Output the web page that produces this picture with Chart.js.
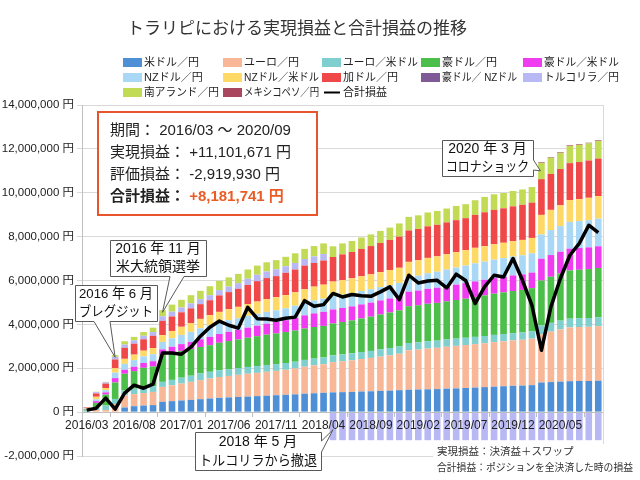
<!DOCTYPE html>
<html lang="ja">
<head>
<meta charset="utf-8">
<script src="https://cdn.jsdelivr.net/npm/chart.js@4"></script>
<style>
  html, body { margin: 0; padding: 0; background: #fff; }
</style>
</head>
<body>
<canvas id="chart" width="640" height="480"></canvas>
<script>
// 値はすべて 万円 単位（グラフ作成時に 10,000 倍する）
const months = [
  '2016/03','2016/04','2016/05','2016/06','2016/07','2016/08','2016/09','2016/10','2016/11','2016/12',
  '2017/01','2017/02','2017/03','2017/04','2017/05','2017/06','2017/07','2017/08','2017/09','2017/10','2017/11','2017/12',
  '2018/01','2018/02','2018/03','2018/04','2018/05','2018/06','2018/07','2018/08','2018/09','2018/10','2018/11','2018/12',
  '2019/01','2019/02','2019/03','2019/04','2019/05','2019/06','2019/07','2019/08','2019/09','2019/10','2019/11','2019/12',
  '2020/01','2020/02','2020/03','2020/04','2020/05','2020/06','2020/07','2020/08','2020/09'
];
const tickLabels = ['2016/03','2016/08','2017/01','2017/06','2017/11','2018/04','2018/09','2019/02','2019/07','2019/12','2020/05'];

const usdjpy = [0,0,0,0,21,27,30,32,47,50,
  53,56,59,62,65,67,69,71,73,75,77,79,
  81,84,86,88,90,91,92,94,95,97,98,100,
  102,103,104,105,107,108,110,112,114,116,118,120,
  121,123,135,137,139,141,142,142,143];
const eurjpy = [2,10,10,37,55,55,57,60,68,72,
  77,82,87,91,95,98,101,104,106,109,111,114,
  118,123,127,130,138,141,144,148,152,156,161,166,
  180,182,186,188,191,194,196,198,200,203,205,207,
  209,212,220,230,238,245,246,247,249];
const eurusd = [5,12,20,23,23,25,25,26,23,25,
  27,28,30,31,31,31,31,31,31,31,31,31,
  31,31,31,31,31,31,32,32,32,33,33,33,
  33,33,33,33,33,33,33,33,33,33,33,33,
  33,33,40,40,40,40,40,40,40];
const audjpy = [5,20,50,75,76,80,90,90,122,122,
  122,121,121,121,125,128,130,133,136,138,140,141,
  142,143,144,144,145,148,150,153,156,159,162,165,
  168,169,171,172,174,176,178,182,185,188,190,192,
  194,197,205,210,215,220,221,223,225];
const audusd = [2,8,10,20,18,20,22,24,26,29,
  31,33,35,38,40,42,44,46,48,50,52,54,
  57,60,62,64,64,64,64,64,64,64,64,64,
  66,67,68,69,70,70,71,71,71,71,71,71,
  71,71,99,99,99,99,99,99,99];
const nzdjpy = [2,8,10,25,27,30,30,32,34,38,
  42,46,50,53,53,53,53,54,54,54,53,54,
  56,58,59,60,61,61,61,61,61,61,61,61,
  66,68,71,73,75,78,80,82,83,84,85,86,
  87,88,111,114,117,122,123,124,126];
const nzdusd = [2,12,10,20,23,25,26,28,31,34,
  37,40,43,46,48,50,52,54,56,58,60,60,
  61,62,63,64,66,66,67,67,68,68,69,69,
  70,70,70,70,70,70,70,71,70,70,70,70,
  70,70,89,92,95,100,100,102,103];
const cadjpy = [3,15,20,40,50,50,52,56,65,66,
  66,67,67,68,75,78,82,87,93,96,96,102,
  104,107,108,110,112,117,120,125,129,133,137,142,
  143,143,144,144,145,146,146,150,155,157,157,159,
  160,161,163,164,165,168,169,170,171];
const audnzd = [0,0,0,0,0,0,0,0,0,0,
  0,0,0,0,0,0,0,0,0,0,0,0,
  0,0,0,0,0,0,0,0,0,0,0,0,
  0,0,0,0,0,0,0,0,0,0,0,0,
  0,0,0,0,0,0,0,0,0];
const tryjpy = [1,6,6,12,15,15,16,17,21,22,
  22,23,23,23,24,25,26,28,29,30,31,30,
  30,30,30,30,-128,-128,-128,-128,-128,-128,-128,-128,
  -128,-128,-128,-128,-128,-128,-128,-128,-128,-128,-128,-128,
  -128,-128,-128,-128,-128,-128,-128,-128,-128];
const zarjpy = [1,2,2,8,15,16,17,20,28,32,
  35,37,38,41,42,42,42,42,42,42,42,43,
  44,46,47,48,49,50,50,52,53,55,56,60,
  62,62,63,63,63,65,64,67,70,71,70,70,
  70,71,74,74,74,78,78,78,80];
const mxnjpy = [0,0,0,0,0,0,0,0,0,0,
  0,0,0,0,0,0,0,0,0,0,0,0,
  0,0,0,0,0,0,0,0,0,0,0,0,
  0,0,0,0,0,0,0,0,0,0,0,0,
  0,0,3,3,3,3,3,3,3];
const totalPL = [9,18,64,14,87,123,109,128,269,269,
  264,296,346,387,415,396,383,478,426,424,419,428,
  433,508,483,490,541,525,536,531,528,548,571,513,
  624,589,598,601,566,629,600,495,571,624,616,700,
  601,487,282,480,609,715,769,852,818];

const FONT = "'Liberation Sans', 'Noto Sans CJK JP', sans-serif";
const MAN = 10000;

const series = [
  ['米ドル／円', usdjpy, '#4F8FD6'],
  ['ユーロ／円', eurjpy, '#F8B898'],
  ['ユーロ／米ドル', eurusd, '#7FCFCF'],
  ['豪ドル／円', audjpy, '#4CBE4A'],
  ['豪ドル／米ドル', audusd, '#F03CF0'],
  ['NZドル／円', nzdjpy, '#A8D8F5'],
  ['NZドル／米ドル', nzdusd, '#FFD966'],
  ['加ドル／円', cadjpy, '#F04848'],
  ['豪ドル／ NZドル', audnzd, '#7F5A96'],
  ['トルコリラ／円', tryjpy, '#B8B8F5'],
  ['南アランド／円', zarjpy, '#C2DB55'],
  ['メキシコペソ／円', mxnjpy, '#A8475E']
];

const datasets = series.map(s => ({
  type: 'bar',
  label: s[0],
  data: s[1].map(v => v * MAN),
  backgroundColor: s[2],
  stack: 'pl',
  order: 1,
  barPercentage: 0.7,
  categoryPercentage: 1.0
}));
datasets.push({
  type: 'line',
  label: '合計損益',
  data: totalPL.map(v => v * MAN),
  borderColor: '#000',
  borderWidth: 3.5,
  pointRadius: 0,
  fill: false,
  tension: 0,
  borderJoinStyle: 'round',
  stack: 'total',
  order: 0
});

// 吹き出し
function callout(ctx, b, tip, wedge, side, lines, size) {
  ctx.save();
  ctx.beginPath();
  ctx.moveTo(b.l + 0.5, b.t + 0.5);
  ctx.lineTo(b.r + 0.5, b.t + 0.5);
  if (side === 'right') {
    ctx.lineTo(b.r + 0.5, wedge[0]);
    ctx.lineTo(tip.x, tip.y);
    ctx.lineTo(b.r + 0.5, wedge[1]);
  }
  ctx.lineTo(b.r + 0.5, b.b + 0.5);
  if (side === 'bottom') {
    ctx.lineTo(wedge[1], b.b + 0.5);
    ctx.lineTo(tip.x, tip.y);
    ctx.lineTo(wedge[0], b.b + 0.5);
  }
  ctx.lineTo(b.l + 0.5, b.b + 0.5);
  ctx.closePath();
  ctx.fillStyle = '#fff';
  ctx.fill();
  ctx.strokeStyle = '#595959';
  ctx.lineWidth = 1;
  ctx.stroke();
  ctx.fillStyle = '#111';
  ctx.font = size + 'px ' + FONT;
  ctx.textAlign = 'center';
  ctx.textBaseline = 'middle';
  const cx = (b.l + b.r) / 2;
  const h = (b.b - b.t) / lines.length;
  lines.forEach((t, i) => ctx.fillText(t, cx, b.t + h * (i + 0.5) + 0.5, b.r - b.l - 8));
  ctx.restore();
}

const decor = {
  id: 'decor',
  afterDraw(chart) {
    const ctx = chart.ctx;
    const a = chart.chartArea;
    const x = chart.scales.x, y = chart.scales.y;
    ctx.save();

    // 右枠
    ctx.strokeStyle = '#d9d9d9';
    ctx.lineWidth = 1;
    ctx.beginPath();
    ctx.moveTo(Math.round(a.right) + 0.5, a.top);
    ctx.lineTo(Math.round(a.right) + 0.5, a.bottom);
    ctx.stroke();

    // タイトル
    ctx.fillStyle = '#333';
    ctx.font = '17px ' + FONT;
    ctx.textAlign = 'center';
    ctx.textBaseline = 'middle';
    ctx.fillText('トラリピにおける実現損益と合計損益の推移', 297, 29);

    // 凡例
    const cols = [123, 223, 322, 421, 523];
    const rows = [62, 77, 92];
    const items = series.map(s => [s[0], s[2]]).concat([['合計損益', null]]);
    ctx.font = '11px ' + FONT;
    ctx.textAlign = 'left';
    items.forEach((it, i) => {
      const cx = cols[i % 5], cy = rows[Math.floor(i / 5)];
      if (it[1]) {
        ctx.fillStyle = it[1];
        ctx.fillRect(cx, cy - 4, 19, 9);
      } else {
        ctx.fillStyle = '#000';
        ctx.fillRect(cx + 2, cy - 0.5, 16, 2);
      }
      ctx.fillStyle = '#222';
      ctx.fillText(it[0], cx + 21, cy + 1, 75);
    });

    // 損益ボックス
    const bx = {l: 98, t: 112, r: 317, b: 215};
    ctx.fillStyle = '#fff';
    ctx.fillRect(bx.l, bx.t, bx.r - bx.l, bx.b - bx.t);
    ctx.strokeStyle = '#E8542C';
    ctx.lineWidth = 2;
    ctx.strokeRect(bx.l, bx.t, bx.r - bx.l, bx.b - bx.t);
    ctx.font = '15px ' + FONT;
    ctx.textBaseline = 'middle';
    ctx.fillStyle = '#222';
    ctx.fillText('期間： 2016/03 ～ 2020/09', 110, 131);
    ctx.fillText('実現損益： +11,101,671 円', 110, 153);
    ctx.fillText('評価損益： -2,919,930 円', 110, 175);
    ctx.font = 'bold 15px ' + FONT;
    ctx.fillText('合計損益：', 110, 197);
    const w = ctx.measureText('合計損益： ').width;
    ctx.fillStyle = '#EA5B25';
    ctx.fillText('+8,181,741 円', 110 + w, 197);
    ctx.restore();

    // 吹き出し
    callout(ctx, {l: 75, t: 285, r: 157, b: 321},
      {x: x.getPixelForValue(3), y: y.getPixelForValue(2500000)},
      [94, 110], 'bottom', ['2016 年 6 月', 'ブレグジット'], 13.5);
    callout(ctx, {l: 110, t: 240, r: 206, b: 276},
      {x: x.getPixelForValue(8), y: y.getPixelForValue(4550000)},
      [170, 184], 'bottom', ['2016 年 11 月', '米大統領選挙'], 14);
    callout(ctx, {l: 442, t: 140, r: 533, b: 176},
      {x: x.getPixelForValue(48) - 1, y: y.getPixelForValue(11000000)},
      [160, 170], 'right', ['2020 年 3 月', 'コロナショック'], 14);
    callout(ctx, {l: 195, t: 432, r: 321, b: 470},
      {x: x.getPixelForValue(26), y: y.getPixelForValue(-800000)},
      [441, 452], 'right', ['2018 年 5 月', 'トルコリラから撤退'], 14);

    // 注記
    ctx.save();
    ctx.fillStyle = '#fff';
    ctx.fillRect(433, 444, 207, 32);
    ctx.fillStyle = '#333';
    ctx.font = '10.5px ' + FONT;
    ctx.textAlign = 'left';
    ctx.textBaseline = 'middle';
    ctx.fillText('実現損益：決済益＋スワップ', 437, 452, 200);
    ctx.fillText('合計損益：ポジションを全決済した時の損益', 437, 468, 196);
    ctx.restore();
  }
};

new Chart(document.getElementById('chart'), {
  data: { labels: months, datasets: datasets },
  options: {
    responsive: false,
    animation: false,
    devicePixelRatio: 1,
    layout: { padding: { top: 105, right: 37, bottom: 24, left: 0 } },
    plugins: {
      legend: { display: false },
      title: { display: false },
      tooltip: { enabled: false }
    },
    scales: {
      x: {
        stacked: true,
        position: { y: 0 },
        grid: { display: true, drawOnChartArea: false, tickLength: 4, color: '#bfbfbf', z: 1 },
        border: { display: true, color: '#bfbfbf', z: 1 },
        ticks: {
          z: 1,
          autoSkip: false,
          maxRotation: 0,
          padding: 2,
          color: '#222',
          font: { family: FONT, size: 12 },
          callback: function (v, i) {
            const m = months[i];
            return tickLabels.includes(m) ? m : null;
          }
        }
      },
      y: {
        stacked: true,
        min: -2000000,
        max: 14000000,
        afterFit: s => { s.width = 82; },
        grid: { color: '#d9d9d9', tickLength: 5 },
        border: { color: '#bfbfbf' },
        ticks: {
          stepSize: 2000000,
          padding: 3,
          color: '#222',
          font: { family: FONT, size: 11.5 },
          callback: v => v.toLocaleString('en-US') + ' 円'
        }
      }
    }
  },
  plugins: [decor]
});
</script>
</body>
</html>
